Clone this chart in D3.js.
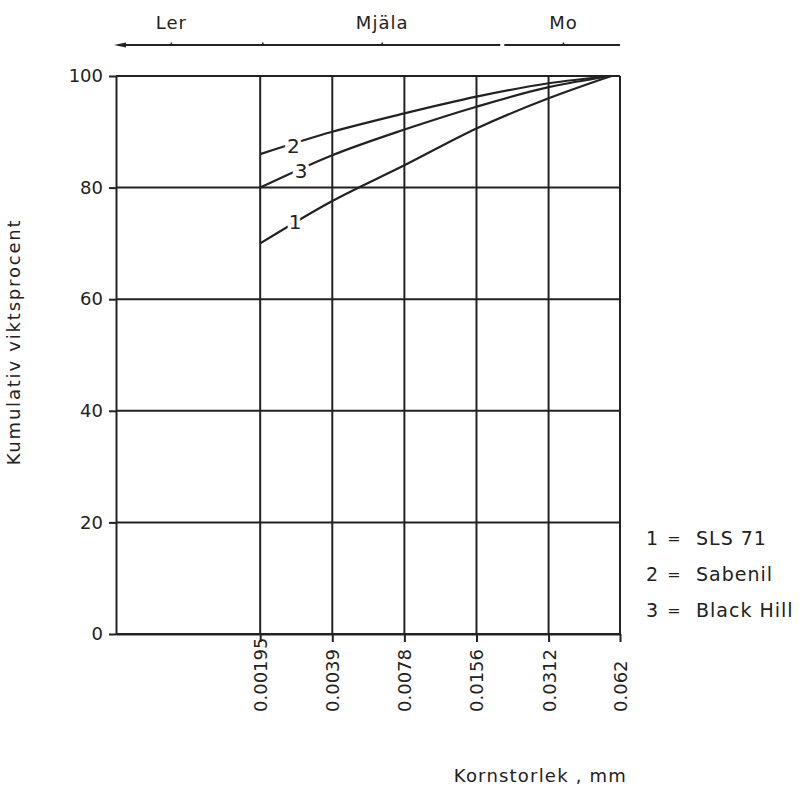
<!DOCTYPE html>
<html><head><meta charset="utf-8">
<script src="https://cdn.jsdelivr.net/npm/d3@7"></script>
<style>body{margin:0;background:#fff}</style>
</head><body>
<svg id="c" width="805" height="788"></svg>
<script>
// ---- data ----
const sizeTicks = [0.00195, 0.0039, 0.0078, 0.0156, 0.0312, 0.062];
const sizeTickLabels = ["0.00195", "0.0039", "0.0078", "0.0156", "0.0312", "0.062"];
const percentTicks = [0, 20, 40, 60, 80, 100];
const grainSizes = [0.00195, 0.0039, 0.0078, 0.0156, 0.0312, 0.057];
const sls71 = [70, 77.6, 84, 90.6, 96, 100];
const sabenil = [86, 90, 93.3, 96.3, 98.7, 100];
const blackHill = [80, 85.8, 90.4, 94.5, 98, 100];
const seriesNumbers = ["1", "2", "3"];
const seriesNames = ["SLS 71", "Sabenil", "Black Hill"];
const curveLabelSize = [0.00273, 0.00268, 0.00289];
const curveLabelPct = [73.8, 87.5, 83.0];
const fractionNames = ["Ler", "Mjäla", "Mo"];
const fractionLabelSize = [0.00083, 0.0063, 0.036];
const fractionBounds = [0.002, 0.02];
const xTitle = "Kornstorlek , mm";
const yTitle = "Kumulativ  viktsprocent";

// ---- layout ----
const svg = d3.select("#c");
const ink = "#222";
const xMin = 0.00195 / 4;
const x = d3.scaleLog().domain([xMin, 0.062]).range([116, 620]);
const y = d3.scaleLinear().domain([0, 100]).range([634, 76]);
const font = "DejaVu Sans, sans-serif";

// gridlines
svg.append("g").selectAll("line").data(percentTicks).join("line")
  .attr("x1", x(xMin)).attr("x2", x(0.062))
  .attr("y1", d => y(d)).attr("y2", d => y(d))
  .attr("stroke", ink).attr("stroke-width", 2);
svg.append("g").selectAll("line").data(sizeTicks).join("line")
  .attr("x1", d => x(d)).attr("x2", d => x(d))
  .attr("y1", y(0)).attr("y2", y(100))
  .attr("stroke", ink).attr("stroke-width", 2);

// y axis
const ya = svg.append("g").attr("transform", `translate(${x(xMin)},0)`)
  .call(d3.axisLeft(y).tickValues(percentTicks).tickSize(7).tickSizeOuter(0).tickPadding(6).tickFormat(d3.format("d")));
ya.selectAll("line,path").attr("stroke", ink).attr("stroke-width", 2);
ya.selectAll("text").attr("font-family", font).attr("font-size", 18).attr("fill", ink);

// x axis
const xa = svg.append("g").attr("transform", `translate(0,${y(0)})`)
  .call(d3.axisBottom(x).tickValues(sizeTicks).tickSize(8).tickSizeOuter(0).tickFormat((d, i) => sizeTickLabels[i]));
xa.selectAll("line,path").attr("stroke", ink).attr("stroke-width", 2);
xa.selectAll("text").attr("font-family", font).attr("font-size", 18).attr("fill", ink)
  .attr("transform", "rotate(-90)").attr("x", -78).attr("y", 0).attr("dy", "0.36em")
  .style("text-anchor", "start");

// curves
const series = [sls71, sabenil, blackHill];
const line = d3.line().x(d => x(d[0])).y(d => y(d[1])).curve(d3.curveMonotoneX);
svg.append("g").selectAll("path").data(series).join("path")
  .attr("d", s => line(grainSizes.map((g, i) => [g, s[i]])))
  .attr("fill", "none").attr("stroke", ink).attr("stroke-width", 2.2);

// curve labels with gap
svg.append("g").selectAll("text").data(seriesNumbers).join("text")
  .attr("x", (d, i) => x(curveLabelSize[i])).attr("y", (d, i) => y(curveLabelPct[i]))
  .attr("dy", "0.36em").attr("text-anchor", "middle")
  .attr("font-family", font).attr("font-size", 20).attr("fill", ink)
  .attr("stroke", "#fff").attr("stroke-width", 7).attr("paint-order", "stroke")
  .text(d => d);

// fraction arrow on top
const ay = 45;
const gapHalf = 2;
const segs = [[x(xMin) + 2, x(fractionBounds[1]) - gapHalf], [x(fractionBounds[1]) + gapHalf, x(0.062)]];
svg.append("g").selectAll("line").data(segs).join("line")
  .attr("x1", d => d[0]).attr("x2", d => d[1]).attr("y1", ay).attr("y2", ay)
  .attr("stroke", ink).attr("stroke-width", 1.8);
svg.append("path")
  .attr("d", `M${x(xMin) - 2},${ay} L${x(xMin) + 10},${ay - 2.5} L${x(xMin) + 10},${ay + 2.5} Z`)
  .attr("fill", ink);
svg.append("g").selectAll("line").data(fractionLabelSize.concat([fractionBounds[0]])).join("line")
  .attr("x1", d => x(d)).attr("x2", d => x(d)).attr("y1", ay).attr("y2", ay - 2.5)
  .attr("stroke", ink).attr("stroke-width", 1.5);
svg.append("g").selectAll("text").data(fractionNames).join("text")
  .attr("x", (d, i) => x(fractionLabelSize[i])).attr("y", 29)
  .attr("text-anchor", "middle").attr("font-family", font).attr("font-size", 18)
  .attr("letter-spacing", 1).attr("fill", ink).text(d => d);

// legend
const lg = svg.append("g").selectAll("g").data(seriesNames).join("g")
  .attr("transform", (d, i) => `translate(0,${538 + i * 36})`);
lg.append("text").attr("x", 652).attr("text-anchor", "middle").attr("dy", "0.36em")
  .attr("font-family", font).attr("font-size", 19).attr("fill", ink).text((d, i) => seriesNumbers[i]);
lg.append("text").attr("x", 674).attr("text-anchor", "middle").attr("dy", "0.36em")
  .attr("font-family", font).attr("font-size", 16).attr("fill", ink).text("=");
lg.append("text").attr("x", 696).attr("dy", "0.36em")
  .attr("font-family", font).attr("font-size", 19).attr("letter-spacing", 1).attr("fill", ink).text(d => d);

// titles
svg.append("text").attr("x", 627).attr("y", 782).attr("text-anchor", "end")
  .attr("font-family", font).attr("font-size", 18).attr("letter-spacing", 1.2).attr("fill", ink).text(xTitle);
svg.append("text").attr("transform", "translate(20,342) rotate(-90)").attr("text-anchor", "middle")
  .attr("font-family", font).attr("font-size", 18).attr("letter-spacing", 1.8).attr("fill", ink).text(yTitle);
</script>
</body></html>
